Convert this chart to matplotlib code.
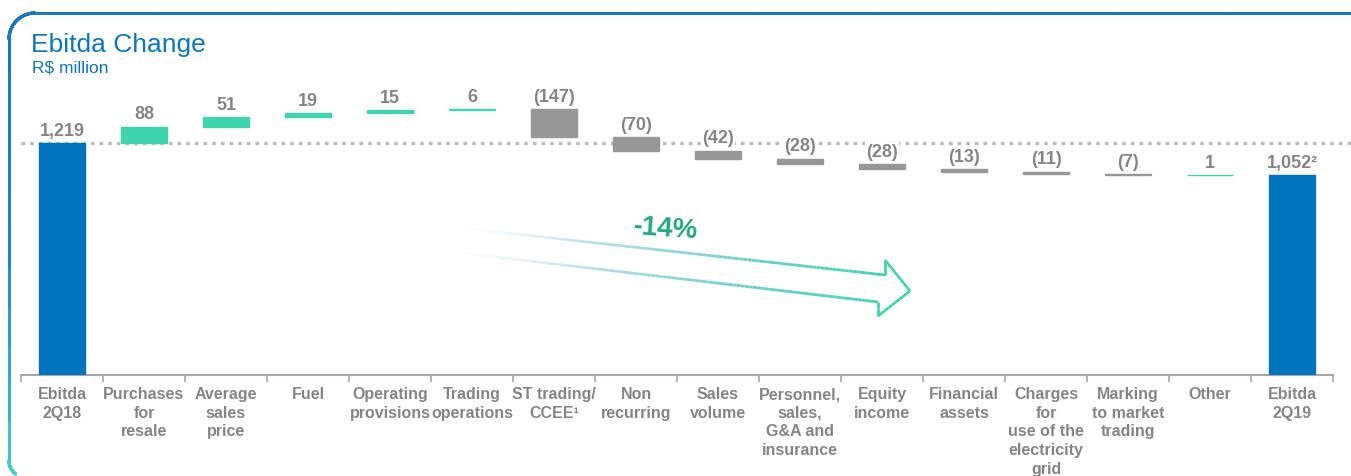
import numpy as np
import matplotlib
matplotlib.use("Agg")
import matplotlib.pyplot as plt
from matplotlib.collections import LineCollection
from matplotlib.colors import LinearSegmentedColormap, to_rgba

plt.rcParams['font.family'] = ['Liberation Sans', 'DejaVu Sans']

# data (R$ million)
categories = ["Ebitda\n2Q18", "Purchases\nfor\nresale", "Average\nsales\nprice", "Fuel",
              "Operating\nprovisions", "Trading\noperations", "ST trading/\nCCEE¹",
              "Non\nrecurring", "Sales\nvolume", "Personnel,\nsales,\nG&A and\ninsurance",
              "Equity\nincome", "Financial\nassets", "Charges\nfor\nuse of the\nelectricity\ngrid",
              "Marking\nto market\ntrading", "Other", "Ebitda\n2Q19"]
ebitda_start = 1219
ebitda_end = 1052
changes = [88, 51, 19, 15, 6, -147, -70, -42, -28, -28, -13, -11, -7, 1]
value_labels = ["1,219", "88", "51", "19", "15", "6", "(147)", "(70)", "(42)", "(28)",
                "(28)", "(13)", "(11)", "(7)", "1", "1,052²"]
change_pct = "-14%"

BLUE = "#0074BC"
TEAL = "#3DD4AE"
GREY = "#979797"
TXT = "#858585"

W, H = 1351, 477
fig = plt.figure(figsize=(W / 100, H / 100), dpi=100)
ax = fig.add_axes([21 / W, 101 / H, 1312 / W, 286 / H])

# waterfall geometry
bottoms, heights, colors, tops = [], [], [], []
bottoms.append(0); heights.append(ebitda_start); colors.append(BLUE); tops.append(ebitda_start)
level = ebitda_start
for d in changes:
    if d >= 0:
        bottoms.append(level); heights.append(d); colors.append(TEAL)
        level += d
        tops.append(level)
    else:
        bottoms.append(level + d); heights.append(-d); colors.append(GREY)
        tops.append(level)
        level += d
bottoms.append(0); heights.append(ebitda_end); colors.append(BLUE); tops.append(ebitda_end)

x = np.arange(len(categories))
ax.bar(x, heights, bottom=bottoms, width=0.56, color=colors, edgecolor=colors,
       linewidth=1.0, zorder=3)

for xi, top, lab in zip(x, tops, value_labels):
    ax.annotate(lab, (xi, top), xytext=(0, 3), textcoords="offset points",
                ha="center", va="bottom", fontsize=13, fontweight="bold", color=TXT,
                bbox=dict(facecolor="white", edgecolor="none", pad=0.5), zorder=4)

# reference level of the starting Ebitda
ax.plot([-0.5, 15.75], [ebitda_start, ebitda_start], color="#BDBDBD", lw=2.4,
        linestyle=(0, (1.1, 1.5)), zorder=2, clip_on=False)

ax.set_xlim(-0.5, 15.5)
ax.set_ylim(0, 1505)
ax.set_yticks([])
for s in ["top", "right", "left"]:
    ax.spines[s].set_visible(False)
ax.spines["bottom"].set_color("#A6A6A6")
ax.spines["bottom"].set_linewidth(1.5)
ax.set_xticks(x)
ax.set_xticklabels(categories, fontsize=11.5, fontweight="bold", color=TXT,
                   linespacing=1.3, va="top")
ax.tick_params(axis="x", which="major", length=0, pad=8)
ax.set_xticks(np.arange(-0.5, 16, 1), minor=True)
ax.tick_params(axis="x", which="minor", length=5, width=1.2, color="#A6A6A6")

# overlay in pixel coordinates for frame, title and trend arrow
ov = fig.add_axes([0, 0, 1, 1], zorder=5)
ov.set_xlim(0, W)
ov.set_ylim(H, 0)
ov.axis("off")
ov.patch.set_alpha(0)

# rounded frame, blue at top fading to teal at the bottom
r = 26
pts = [(W, 14), (9 + r, 14)]
for a in np.linspace(np.pi / 2, np.pi, 20):
    pts.append((9 + r + r * np.cos(a), 14 + r - r * np.sin(a)))
pts.append((9, 462))
rb = 16
for a in np.linspace(np.pi, 1.3 * np.pi, 10):
    pts.append((9 + rb + rb * np.cos(a), 462 - rb * np.sin(a)))
pts = np.array(pts)
fine = [pts[0]]
for p0, p1 in zip(pts[:-1], pts[1:]):
    for t in np.linspace(0, 1, 12)[1:]:
        fine.append(p0 + (p1 - p0) * t)
fine = np.array(fine)
segs = np.stack([fine[:-1], fine[1:]], axis=1)
frame_cmap = LinearSegmentedColormap.from_list("frame", ["#1A78C2", "#1E8ACB", "#44D0C6"])
ymid = (segs[:, 0, 1] + segs[:, 1, 1]) / 2
fc = frame_cmap(np.clip((ymid - 60) / (H - 60), 0, 1))
ov.add_collection(LineCollection(segs, colors=fc, linewidths=2.2, capstyle="round"))

ov.text(31, 52, "Ebitda Change", fontsize=19, color="#0A78C0", ha="left", va="baseline")
ov.text(32, 73, "R$ million", fontsize=12.5, color="#0A78C0", ha="left", va="baseline")

# hollow trend arrow with fading tail
outline = [[(453, 228), (885, 276), (885, 261), (910, 292), (878, 317), (878, 303), (453, 253)]]
arrow_cmap = LinearSegmentedColormap.from_list(
    "arrow", [to_rgba("#DCEFF8", 0.0), to_rgba("#A9D9EA", 0.9), to_rgba("#6CCFD0", 1.0),
              to_rgba(TEAL, 1.0)])
for path in outline:
    path = np.array(path, dtype=float)
    fine = [path[0]]
    for p0, p1 in zip(path[:-1], path[1:]):
        n = max(2, int(np.hypot(*(p1 - p0)) / 4))
        for t in np.linspace(0, 1, n)[1:]:
            fine.append(p0 + (p1 - p0) * t)
    fine = np.array(fine)
    segs = np.stack([fine[:-1], fine[1:]], axis=1)
    xm = (segs[:, 0, 0] + segs[:, 1, 0]) / 2
    ac = arrow_cmap(np.clip((xm - 453) / (890 - 453), 0, 1))
    ov.add_collection(LineCollection(segs, colors=ac, linewidths=2.0, joinstyle="miter"))

ov.text(666, 229, change_pct, fontsize=20, fontweight="bold", color="#23A886",
        ha="center", va="center", rotation=-4)

fig.savefig("out.png", dpi=100)
